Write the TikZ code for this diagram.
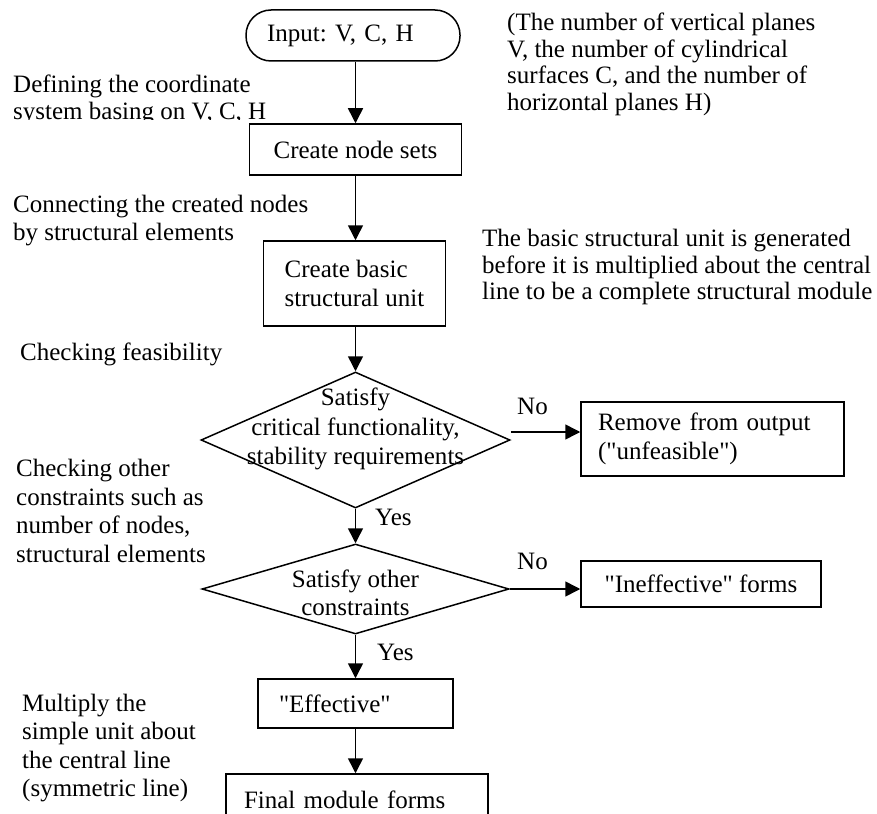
\documentclass[tikz,border=0pt]{standalone}
\usepackage{fontspec}
\setmainfont{Liberation Serif}[Ligatures=TeXOff]
\usetikzlibrary{arrows.meta,shapes.geometric}
\begin{document}
\frenchspacing
\begin{tikzpicture}[x=1pt,y=-1pt,
  every node/.style={inner sep=0pt, font=\fontsize{25}{28.5}\selectfont},
  flowbox/.style={draw, line width=1.5pt},
  arr/.style={line width=1.5pt, -{Triangle[length=15pt,width=15pt]}},
  note/.style={anchor=north west, align=left},
  lbl/.style={anchor=north west}]
\useasboundingbox (0,0) rectangle (877,813);
\clip (0,0) rectangle (877,813);
\fill[white] (0,0) rectangle (877,813);

% main flow
\node[flowbox, rounded corners=25pt, minimum width=214pt, minimum height=51pt, text width=172pt, align=left] (in) at (353,35.5) {Input: V, C, H};
\node[flowbox, minimum width=212pt, minimum height=51pt] (ns) at (355.5,149.5) {Create node sets};
\node[flowbox, minimum width=182pt, minimum height=85pt, align=left] (bu) at (354.5,283.5) {Create basic\\structural unit};
\node[flowbox, diamond, minimum width=309pt, minimum height=136pt] (d1) at (355.5,440) {};
\node[align=center, font=\fontsize{25}{29.5}\selectfont] (d1t) at (355.5,429) {Satisfy\\critical functionality,\\stability requirements};
\node[flowbox, diamond, minimum width=307pt, minimum height=90pt] (d2) at (355.5,589) {};
\node[align=center] (d2t) at (355.5,593) {Satisfy other\\constraints};
\node[flowbox, minimum width=195pt, minimum height=49pt, text width=153pt, align=left] (ef) at (355.5,703.5) {"Effective"};
\node[flowbox, minimum width=262pt, minimum height=52pt, text width=226pt, align=left] (fm) at (357,800) {Final module forms};
\node[flowbox, minimum width=263pt, minimum height=74pt, text width=229pt, align=left] (rm) at (712.5,439) {Remove from output\\("unfeasible")};
\node[flowbox, minimum width=240pt, minimum height=46pt] (ie) at (701,584) {"Ineffective" forms};

% connectors
\draw[arr] (in.south -| d1.north) -- (ns.north -| d1.north);
\draw[arr] (ns.south -| d1.north) -- (bu.north -| d1.north);
\draw[arr] (bu.south -| d1.north) -- (d1.north);
\draw[arr] (d1.south) -- (d2.north);
\draw[arr] (d2.south) -- (ef.north -| d2.south);
\draw[arr] (ef.south -| d2.south) -- (fm.north -| d2.south);
\coordinate (n1s) at ([yshift=8pt]d1.east);
\draw[arr] (n1s) -- (n1s -| rm.west);
\draw[arr] (d2.east) -- (d2.east -| ie.west);

% branch labels
\node[lbl] (no1) at (517,398) {No};
\node[lbl] (no2) at (517,553) {No};
\node[lbl] (yes1) at (375,509) {Yes};
\node[lbl] (yes2) at (377,644) {Yes};

% side notes
\begin{scope}
\clip (0,0) rectangle (300,119.5);
\node[note, font=\fontsize{25}{27}\selectfont] (n1) at (13,75) {Defining the coordinate\\system basing on V, C, H};
\end{scope}
\node[note, font=\fontsize{25}{26.5}\selectfont] (n2) at (507,13) {(The number of vertical planes\\V, the number of cylindrical\\surfaces C, and the number of\\horizontal planes H)};
\node[note, font=\fontsize{25}{28}\selectfont] (n3) at (13,195) {Connecting the created nodes\\by structural elements};
\node[note, font=\fontsize{25}{26.5}\selectfont] (n4) at (482,229) {The basic structural unit is generated\\before it is multiplied about the central\\line to be a complete structural module};
\node[note] (n5) at (20,343) {Checking feasibility};
\node[note, font=\fontsize{25}{28.7}\selectfont] (n6) at (16,459) {Checking other\\constraints such as\\number of nodes,\\structural elements};
\node[note, font=\fontsize{25}{28.3}\selectfont] (n7) at (22,694) {Multiply the\\simple unit about\\the central line\\(symmetric line)};
\end{tikzpicture}
\end{document}
